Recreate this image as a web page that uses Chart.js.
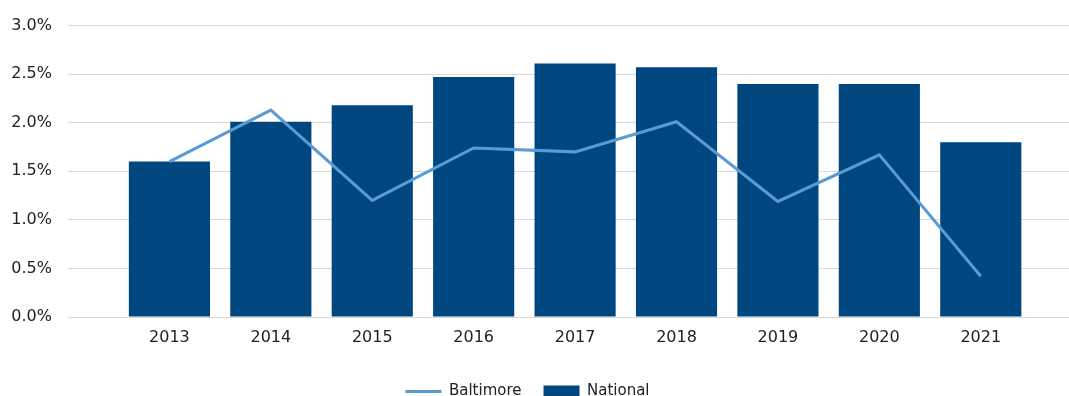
<!DOCTYPE html>
<html>
<head>
<meta charset="utf-8">
<script src="https://cdn.jsdelivr.net/npm/chart.js@4.4.0/dist/chart.umd.min.js"></script>
<style>
    body { margin: 0; background: #fff; }
    .wrap { width: 1069px; height: 396px; }
</style>
</head>
<body>
<div class="wrap"><canvas id="myChart"></canvas></div>
<script>
const years = [2013, 2014, 2015, 2016, 2017, 2018, 2019, 2020, 2021];
const baltimore = [1.60, 2.13, 1.20, 1.74, 1.70, 2.01, 1.19, 1.67, 0.42];
const national = [1.60, 2.01, 2.18, 2.47, 2.61, 2.57, 2.40, 2.40, 1.80];
const yTicks = [0, 0.5, 1, 1.5, 2, 2.5, 3];

const pts = (vals) => years.map((y, i) => ({ x: y, y: vals[i] }));
const font = 'DejaVu Sans';

// nudge the legend a bit to the left, like the original
const legendShift = {
    id: 'legendShift',
    afterLayout(chart) {
        chart.legend.left -= 12;
        chart.legend.right -= 12;
    }
};

const ctx = document.getElementById('myChart');
new Chart(ctx, {
    type: 'bar',
    data: {
        datasets: [
            {
                type: 'line',
                label: 'Baltimore',
                data: pts(baltimore),
                borderColor: '#5b9bd5',
                backgroundColor: '#5b9bd5',
                borderWidth: 3,
                pointRadius: 0,
                pointStyle: 'line',
                tension: 0,
                order: 0
            },
            {
                label: 'National',
                data: pts(national),
                backgroundColor: '#00467f',
                borderWidth: 0,
                pointStyle: 'rect',
                barPercentage: 0.8,
                categoryPercentage: 1,
                order: 1
            }
        ]
    },
    plugins: [legendShift],
    options: {
        responsive: true,
        maintainAspectRatio: false,
        animation: false,
        layout: {
            padding: { left: 10, right: 0, top: 9, bottom: -13 }
        },
        plugins: {
            tooltip: { enabled: false },
            legend: {
                position: 'bottom',
                labels: {
                    usePointStyle: true,
                    pointStyleWidth: 36,
                    boxHeight: 12,
                    padding: 22,
                    color: '#222',
                    font: { family: font, size: 15 }
                }
            }
        },
        scales: {
            x: {
                type: 'linear',
                min: 2012,
                max: 2021.87,
                offset: false,
                grid: { display: false },
                border: { display: false },
                afterFit: (s) => { s.height = 45; },
                ticks: {
                    stepSize: 1,
                    includeBounds: false,
                    padding: 3,
                    color: '#222',
                    font: { family: font, size: 16 },
                    callback: (v) => years.includes(v) ? String(v) : ''
                }
            },
            y: {
                min: 0,
                max: 3,
                afterBuildTicks: (s) => { s.ticks = yTicks.map(v => ({ value: v })); },
                afterFit: (s) => { s.width = 58; },
                grid: { color: '#d9d9d9', drawTicks: false },
                border: { display: false },
                ticks: {
                    padding: 16,
                    color: '#222',
                    font: { family: font, size: 16 },
                    callback: (v) => v.toFixed(1) + '%'
                }
            }
        }
    }
});
</script>
</body>
</html>
